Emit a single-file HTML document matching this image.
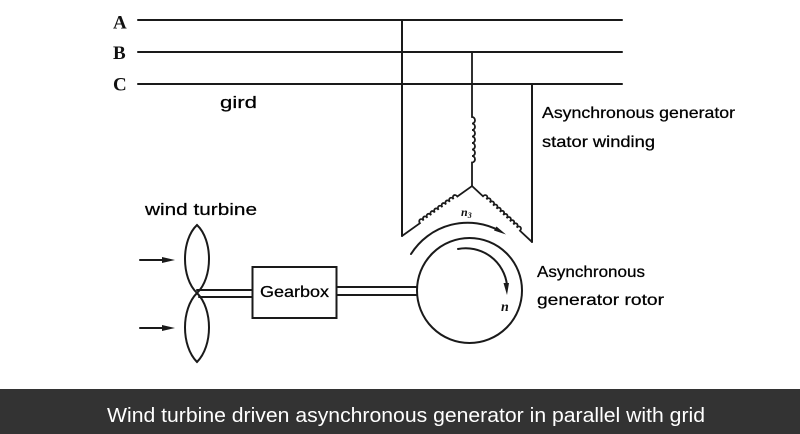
<!DOCTYPE html>
<html><head><meta charset="utf-8"><style>
html,body{margin:0;padding:0;background:#fff;}
svg{display:block;}
text.t{font-family:"Liberation Sans",sans-serif;fill:#000;stroke:#000;stroke-width:0.25;}
text.s{font-family:"Liberation Serif",serif;font-weight:bold;fill:#111;}
</style></head><body>
<svg width="800" height="434" viewBox="0 0 800 434" xmlns="http://www.w3.org/2000/svg">
<rect width="800" height="434" fill="#fff"/>
<g stroke="#1a1a1a" stroke-width="2" fill="none" stroke-linecap="round">
  <!-- grid lines -->
  <line x1="138" y1="20" x2="622" y2="20"/>
  <line x1="138" y1="52" x2="622" y2="52"/>
  <line x1="138" y1="84" x2="622" y2="84"/>
  <!-- verticals -->
  <line x1="402" y1="20" x2="402" y2="236"/>
  <line x1="532" y1="84" x2="532" y2="242"/>
  <!-- middle coil -->
  <path d="M472 52 V117 a3 3.25 0 0 1 0 6.5 a3 3.25 0 0 1 0 6.5 a3 3.25 0 0 1 0 6.5 a3 3.25 0 0 1 0 6.5 a3 3.25 0 0 1 0 6.5 a3 3.25 0 0 1 0 6.5 a3 3.25 0 0 1 0 6.5 V186" stroke-width="1.8"/>
  <!-- left leg -->
  <g transform="translate(402,236) rotate(-35.5)">
    <path d="M0 0 H22 a2.3 3 0 0 1 4.6 0 a2.3 3 0 0 1 4.6 0 a2.3 3 0 0 1 4.6 0 a2.3 3 0 0 1 4.6 0 a2.3 3 0 0 1 4.6 0 a2.3 3 0 0 1 4.6 0 a2.3 3 0 0 1 4.6 0 a2.3 3 0 0 1 4.6 0 a2.3 3 0 0 1 4.6 0 a2.3 3 0 0 1 4.6 0 H86" stroke-width="1.8"/>
  </g>
  <!-- right leg -->
  <g transform="translate(472,186) rotate(43)">
    <path d="M0 0 H15 a2.3 3 0 0 1 4.6 0 a2.3 3 0 0 1 4.6 0 a2.3 3 0 0 1 4.6 0 a2.3 3 0 0 1 4.6 0 a2.3 3 0 0 1 4.6 0 a2.3 3 0 0 1 4.6 0 a2.3 3 0 0 1 4.6 0 a2.3 3 0 0 1 4.6 0 a2.3 3 0 0 1 4.6 0 a2.3 3 0 0 1 4.6 0 a2.3 3 0 0 1 4.6 0 H82" stroke-width="1.8"/>
  </g>
  <!-- outer arc -->
  <path d="M411 254 A67 67 0 0 1 500 231"/>
  <!-- inner arc -->
  <path d="M458 249 A41.5 41.5 0 0 1 507 285"/>
  <!-- circle -->
  <circle cx="469.5" cy="290.5" r="52.5"/>
  <!-- shaft gearbox to circle -->
  <line x1="337" y1="287" x2="417" y2="287"/>
  <line x1="337" y1="295" x2="417" y2="295"/>
  <!-- gearbox -->
  <rect x="252.5" y="267" width="84" height="51"/>
  <!-- shaft propeller to gearbox -->
  <line x1="197" y1="290" x2="252" y2="290"/>
  <line x1="199" y1="297" x2="252" y2="297"/>
  <!-- blades -->
  <path d="M197 225 C181 240 181 278 197 293 C213 278 213 240 197 225 Z"/>
  <path d="M197 293 C181 309 181 346 197 362 C213 346 213 309 197 293 Z"/>
  <!-- wind arrows -->
  <line x1="140" y1="260" x2="164" y2="260"/>
  <line x1="140" y1="328" x2="164" y2="328"/>
</g>
<g fill="#1a1a1a">
  <polygon points="175,260 162,257 162,263"/>
  <polygon points="175,328 162,325 162,331"/>
  <polygon points="506,234.5 494,230.5 496.5,226.5"/>
  <polygon points="507,295 503.5,283 509,283"/>
</g>
<!-- ABC labels -->
<text class="s" x="113" y="28.5" font-size="19">A</text>
<text class="s" x="113" y="59" font-size="19">B</text>
<text class="s" x="113" y="90.5" font-size="19">C</text>
<!-- n labels -->
<text class="s" x="461" y="216" font-size="12" font-style="italic">n<tspan font-size="8" dy="2">3</tspan></text>
<text class="s" x="501" y="311" font-size="14" font-style="italic">n</text>
<!-- text labels -->
<text class="t" x="220" y="108" font-size="17" textLength="37" lengthAdjust="spacingAndGlyphs">gird</text>
<text class="t" x="145" y="215" font-size="17" textLength="112" lengthAdjust="spacingAndGlyphs">wind turbine</text>
<text class="t" x="260" y="297" font-size="16" textLength="69" lengthAdjust="spacingAndGlyphs">Gearbox</text>
<text class="t" x="542" y="118" font-size="16" textLength="193" lengthAdjust="spacingAndGlyphs">Asynchronous generator</text>
<text class="t" x="542" y="147" font-size="16" textLength="113" lengthAdjust="spacingAndGlyphs">stator winding</text>
<text class="t" x="537" y="277" font-size="16" textLength="108" lengthAdjust="spacingAndGlyphs">Asynchronous</text>
<text class="t" x="537" y="305" font-size="16" textLength="127" lengthAdjust="spacingAndGlyphs">generator rotor</text>
<!-- caption bar -->
<rect x="0" y="389" width="800" height="45" fill="#333333"/>
<text x="107" y="422" font-size="20" textLength="598" lengthAdjust="spacingAndGlyphs" style="font-family:'Liberation Sans',sans-serif;fill:#fff;">Wind turbine driven asynchronous generator in parallel with grid</text>
</svg>
</body></html>
